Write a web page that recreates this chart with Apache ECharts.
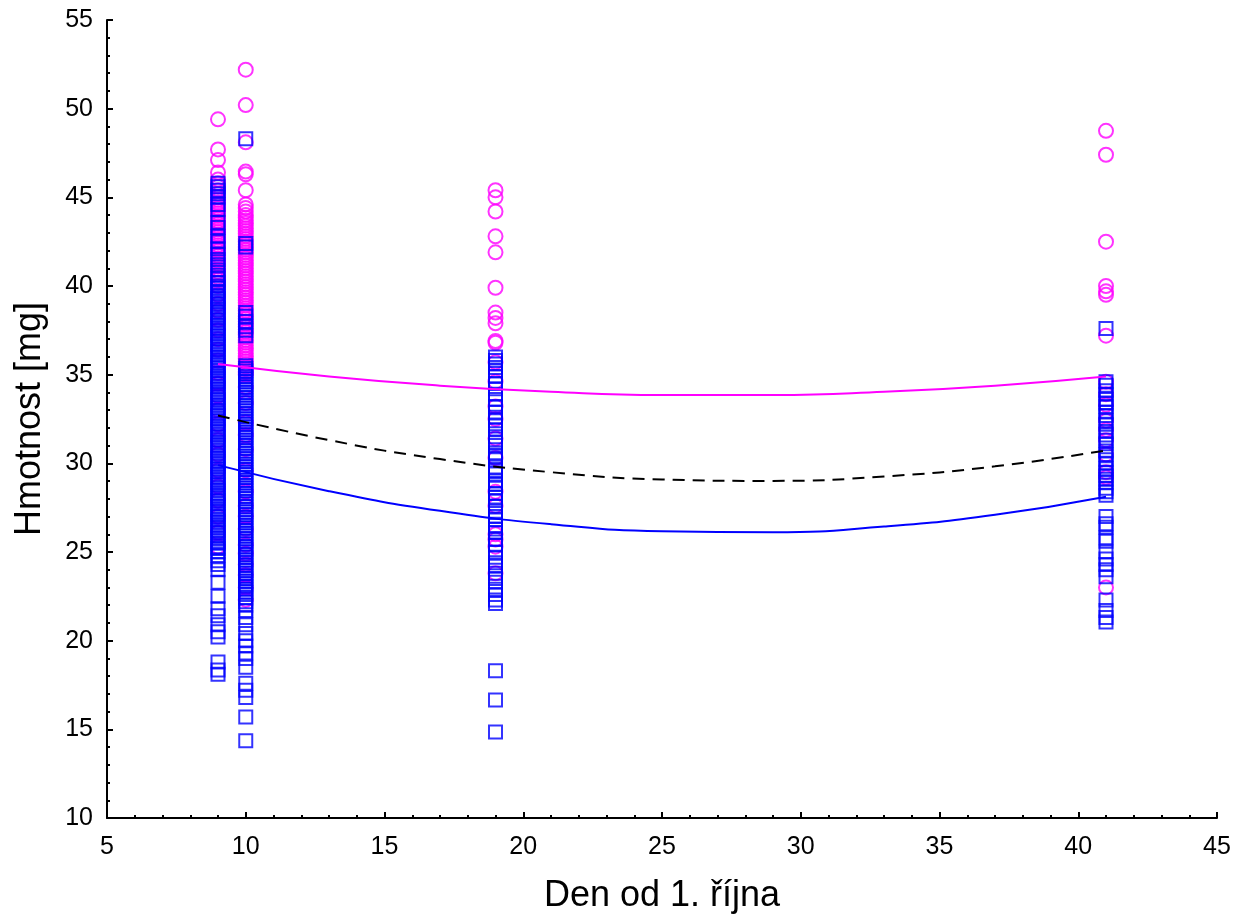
<!DOCTYPE html>
<html>
<head>
<meta charset="utf-8">
<script src="https://cdn.jsdelivr.net/npm/echarts@6/dist/echarts.min.js"></script>
<style>html,body{margin:0;padding:0;background:#fff}#c{width:1243px;height:919px}</style>
</head>
<body>
<div id="c"></div>
<script>
// Magenta circles (values per day)
const magentaDay9 = [49.4,47.7,47.1,46.4,46.0,45.8,45.6,45.4,45.2,45.0,44.85,44.7,44.55,44.4,44.25,44.1,43.95,43.8,43.65,43.5,43.35,43.2,43.05,42.9,42.75,42.6,42.45,42.3,42.15,42.0,41.85,41.7,41.55,41.4,41.25,41.1,40.95,40.8,40.65,40.5,40.35,40.2,40.0,39.5,39.0,38.6,38.1,37.5,37.0,36.4,35.8,35.1,34.5,33.8,33.0,32.2,31.3,30.5,29.6,28.7,27.9,27.0,26.1,25.3];
const magentaDay10 = [52.2,50.2,48.1,46.45,46.3,45.4,44.6,44.4,44.2,44.0,43.85,43.7,43.55,43.4,43.25,43.1,42.95,42.8,42.65,42.5,42.35,42.2,42.05,41.9,41.75,41.6,41.45,41.3,41.15,41.0,40.85,40.7,40.55,40.4,40.25,40.1,39.95,39.8,39.65,39.5,39.35,39.2,39.05,38.9,38.75,38.6,38.45,38.3,38.15,38.0,37.85,37.7,37.55,37.4,37.25,37.1,36.95,36.8,36.65,36.5,36.35,36.2,36.05,35.9,35.75,35.6,35.45,35.3,35.15,35.0,34.3,33.4,32.3,31.6,30.8,29.6,28.4,27.6,27.0,26.3,25.4,24.9,24.3,23.7,23.0,22.3];
const magentaDay19 = [45.4,45.0,44.2,42.8,41.9,39.9,38.5,38.2,37.9,36.9,36.8,35.7,34.6,33.2,32.5,31.4,30.3,28.4,27.6,26.0,25.7,25.3,23.8];
const magentaDay41 = [48.75,47.4,42.5,40.0,39.7,39.5,37.2,34.6,33.9,33.3,32.4,31.9,31.3,30.5,29.5,29.2,23.0];
// Blue squares (values per day)
const blueDay9 = [45.8,45.6,45.4,45.2,45.0,44.6,44.3,43.6,43.3,42.8,42.5,42.1,41.8,41.5,41.2,40.9,40.6,40.4,40.2,40.0,39.9,39.7,39.6,39.4,39.3,39.1,39.0,38.8,38.7,38.5,38.4,38.2,38.1,37.9,37.8,37.6,37.5,37.3,37.2,37.0,36.9,36.7,36.6,36.4,36.3,36.1,36.0,35.8,35.7,35.5,35.4,35.2,35.1,34.9,34.8,34.6,34.5,34.3,34.2,34.0,33.9,33.7,33.6,33.4,33.3,33.1,33.0,32.8,32.7,32.5,32.4,32.2,32.1,31.9,31.8,31.6,31.5,31.3,31.2,31.0,30.9,30.7,30.6,30.4,30.3,30.1,30.0,29.8,29.7,29.5,29.4,29.2,29.1,28.9,28.8,28.6,28.5,28.3,28.2,28.0,27.9,27.7,27.6,27.4,27.3,27.1,27.0,26.8,26.7,26.5,26.4,26.2,26.1,25.9,25.8,25.6,25.5,25.3,25.2,25.0,24.8,24.5,24.3,24.0,23.3,22.5,21.8,21.4,20.9,20.5,20.2,18.8,18.35,18.1];
const blueDay10 = [48.3,42.4,42.2,38.5,38.3,38.0,37.7,37.5,37.2,35.5,35.35,35.2,35.05,34.9,34.75,34.6,34.45,34.3,34.15,34.0,33.85,33.7,33.55,33.4,33.25,33.1,32.95,32.8,32.65,32.5,32.35,32.2,32.05,31.9,31.75,31.6,31.45,31.3,31.15,31.0,30.85,30.7,30.55,30.4,30.25,30.1,29.95,29.8,29.65,29.5,29.35,29.2,29.05,28.9,28.75,28.6,28.45,28.3,28.15,28.0,27.85,27.7,27.55,27.4,27.25,27.1,26.95,26.8,26.65,26.5,26.35,26.2,26.05,25.9,25.75,25.6,25.45,25.3,25.15,25.0,24.85,24.7,24.55,24.4,24.25,24.1,23.95,23.8,23.65,23.5,23.35,23.2,23.05,22.9,22.75,22.6,22.4,22.2,22.0,21.7,21.3,20.9,20.4,20.0,19.7,19.3,19.0,18.5,17.6,17.2,16.8,15.7,14.35];
const blueDay19 = [36.0,35.8,35.6,35.4,35.2,34.9,34.5,34.2,33.9,33.6,33.2,32.9,32.6,32.4,32.1,31.9,31.5,31.2,31.0,30.6,30.4,30.2,29.8,29.6,29.4,29.0,28.8,28.6,28.3,28.1,27.9,27.6,27.3,27.0,26.8,26.5,26.3,26.1,25.7,25.4,25.0,24.7,24.4,24.2,23.8,23.5,23.3,22.9,22.6,22.3,22.1,18.3,16.65,14.85];
const blueDay41 = [37.6,34.6,34.4,34.1,33.9,33.6,33.4,33.2,32.9,32.7,32.4,32.2,31.8,31.6,31.3,31.1,30.7,30.5,30.2,30.0,29.7,29.5,29.3,29.1,28.9,28.6,28.4,28.2,27.0,26.6,26.4,25.8,25.6,25.0,24.6,24.3,24.0,23.6,22.3,21.7,21.3,21.05];
// Fitted curves
const curveX = [9,13,17,21,25,29,33,37,41];
const magentaCurve = [35.60,34.90,34.38,34.03,33.85,33.85,34.03,34.38,34.90];
const blackCurve = [32.70,31.31,30.24,29.50,29.09,29.01,29.26,29.83,30.73];
const blueCurve = [29.90,28.43,27.32,26.57,26.17,26.12,26.44,27.10,28.12];
const xTicks = [5,10,15,20,25,30,35,40,45];
const yTicks = [10,15,20,25,30,35,40,45,50,55];

function pts(day, arr){ return arr.map(v => [day, v]); }
const magentaPts = [].concat(pts(9,magentaDay9), pts(10,magentaDay10), pts(19,magentaDay19), pts(41,magentaDay41));
const bluePts = [].concat(pts(9,blueDay9), pts(10,blueDay10), pts(19,blueDay19), pts(41,blueDay41));
const zip = (ys) => curveX.map((x,i) => [x, ys[i]]);

const font = '"Liberation Sans", Arial, sans-serif';
const axisCommon = {
  axisLine: {show: true, onZero: false, lineStyle: {color: '#000', width: 2}},
  axisTick: {show: true, inside: true, length: 6, lineStyle: {color: '#000', width: 2}},
  minorTick: {show: true, splitNumber: 5, length: 3, lineStyle: {color: '#000', width: 2}},
  splitLine: {show: false},
  axisLabel: {color: '#000', fontSize: 25, fontFamily: font},
  nameTextStyle: {color: '#000', fontSize: 36, fontFamily: font},
  nameLocation: 'middle'
};

const chart = echarts.init(document.getElementById('c'));
chart.setOption({
  animation: false,
  backgroundColor: '#fff',
  grid: {left: 107, right: 26, top: 20, bottom: 100, containLabel: false},
  xAxis: Object.assign({}, axisCommon, {
    type: 'value', min: xTicks[0], max: xTicks[xTicks.length-1], interval: 5,
    name: 'Den od 1. října', nameGap: 60,
    axisLabel: Object.assign({}, axisCommon.axisLabel, {margin: 17})
  }),
  yAxis: Object.assign({}, axisCommon, {
    type: 'value', min: yTicks[0], max: yTicks[yTicks.length-1], interval: 5,
    name: 'Hmotnost [mg]', nameGap: 59, nameRotate: 90,
    axisLabel: Object.assign({}, axisCommon.axisLabel, {margin: 14})
  }),
  series: [
    {type: 'scatter', data: magentaPts, symbol: 'circle', symbolSize: 14,
     itemStyle: {color: 'transparent', borderColor: '#ff00ff', borderWidth: 2}},
    {type: 'scatter', data: bluePts, symbol: 'rect', symbolSize: 13,
     itemStyle: {color: 'transparent', borderColor: '#0000ff', borderWidth: 2}},
    {type: 'line', data: zip(magentaCurve), smooth: true, symbol: 'none',
     lineStyle: {color: '#ff00ff', width: 2}},
    {type: 'line', data: zip(blackCurve), smooth: true, symbol: 'none',
     lineStyle: {color: '#000', width: 2, type: [12, 8]}},
    {type: 'line', data: zip(blueCurve), smooth: true, symbol: 'none',
     lineStyle: {color: '#0000ff', width: 2}}
  ]
});
</script>
</body>
</html>
